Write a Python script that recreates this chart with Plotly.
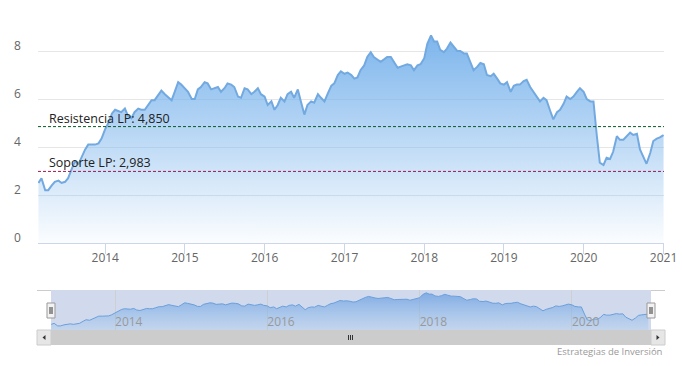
import pandas as pd
import plotly.graph_objects as go

# ---------------- data ----------------
start_date = "2013-03-01"
values = [
    2.5, 2.7, 2.2, 2.2, 2.4, 2.55, 2.6, 2.5, 2.55, 2.7,
    3.1, 3.4, 3.3, 3.6, 3.9, 4.1, 4.1, 4.1, 4.15, 4.35,
    4.75, 5.0, 5.4, 5.55, 5.5, 5.45, 5.6, 5.3, 5.2, 5.45,
    5.6, 5.55, 5.55, 5.75, 5.95, 5.95, 6.2, 6.35, 6.2, 6.1,
    5.95, 6.3, 6.7, 6.6, 6.45, 6.3, 6.0, 6.0, 6.4, 6.5,
    6.7, 6.65, 6.4, 6.45, 6.5, 6.3, 6.45, 6.65, 6.6, 6.5,
    6.1, 6.05, 6.45, 6.4, 6.2, 6.3, 6.45, 6.2, 6.1, 5.75,
    5.9, 5.55, 5.75, 6.05, 5.9, 6.2, 6.3, 6.05, 6.4, 5.9,
    5.35, 5.75, 5.9, 5.85, 6.2, 6.05, 5.9, 6.2, 6.55, 6.65,
    7.0, 7.15, 7.05, 7.1, 7.0, 6.85, 6.9, 7.2, 7.4, 7.75,
    7.95, 7.75, 7.65, 7.55, 7.65, 7.75, 7.75, 7.55, 7.3, 7.35,
    7.4, 7.45, 7.4, 7.2, 7.4, 7.45, 7.7, 8.3, 8.65, 8.4,
    8.4, 8.05, 7.95, 8.1, 8.35, 8.2, 8.0, 8.0, 7.9, 7.9,
    7.5, 7.2, 7.35, 7.5, 7.45, 7.0, 6.95, 7.05, 6.85, 6.65,
    6.6, 6.7, 6.3, 6.55, 6.6, 6.6, 6.75, 6.8, 6.5, 6.3,
    6.1, 5.9, 6.05, 5.95, 5.5, 5.15, 5.45, 5.55, 5.8, 6.1,
    6.0, 6.1, 6.3, 6.45, 6.3, 6.0, 5.9, 5.9, 4.5, 3.35,
    3.25, 3.55, 3.5, 3.8, 4.45, 4.3, 4.3, 4.45, 4.6, 4.5,
    4.55, 3.9, 3.6, 3.3, 3.75, 4.25, 4.35, 4.4, 4.5,
]
dates = pd.date_range(start_date, periods=len(values), freq="SMS")

resistencia = 4.850
soporte = 2.983
resistencia_label = "Resistencia LP: 4,850"
soporte_label = "Soporte LP: 2,983"

year_ticks = ["2014", "2015", "2016", "2017", "2018", "2019", "2020", "2021"]
nav_ticks = ["2014", "2016", "2018", "2020"]
y_grid = [0, 2, 4, 6, 8, 10]
y_labels = [0, 2, 4, 6, 8]
credit_text = "Estrategias de Inversión"

main_range = ["2013-02-27", "2021-01-03"]
nav_range = ["2013-02-28", "2021-01-14"]

# ---------------- layout geometry helpers (pixels -> paper) ----------------
W, H = 682, 366
ML, MR, MT, MB = 38, 18, 3, 21
PW, PH = W - ML - MR, H - MT - MB


def fx(px):
    return (px - ML) / PW


def fy(py):
    return (H - MB - py) / PH


FONT = "Open Sans, DejaVu Sans, sans-serif"

fig = go.Figure()

# main area series
fig.add_trace(go.Scatter(
    x=dates, y=values, mode="lines",
    line=dict(color="#72a9e0", width=2),
    fill="tozeroy",
    fillgradient=dict(type="vertical", start=0, stop=8.7,
                      colorscale=[[0, "rgba(124,181,236,0.03)"],
                                  [1, "rgba(124,181,236,1)"]]),
    hoverinfo="skip", showlegend=False, xaxis="x", yaxis="y",
))

# navigator series
fig.add_trace(go.Scatter(
    x=dates, y=values, mode="lines",
    line=dict(color="#6b9fdc", width=1),
    fill="tozeroy",
    fillgradient=dict(type="vertical", start=1.4, stop=8.7,
                      colorscale=[[0, "rgba(124,181,236,0.15)"],
                                  [1, "rgba(110,160,225,0.8)"]]),
    hoverinfo="skip", showlegend=False, xaxis="x2", yaxis="y2",
))

shapes = []
# support / resistance lines
shapes.append(dict(type="line", xref="paper", yref="y", x0=0, x1=1,
                   y0=resistencia, y1=resistencia,
                   line=dict(color="#0b5a26", width=1, dash="3px,2px")))
shapes.append(dict(type="line", xref="paper", yref="y", x0=0, x1=1,
                   y0=soporte, y1=soporte,
                   line=dict(color="#9a1a52", width=1, dash="3px,2px")))

# navigator mask (selected range)
shapes.append(dict(type="rect", xref="paper", yref="paper",
                   x0=fx(51), x1=fx(651), y0=fy(330), y1=fy(290),
                   fillcolor="rgba(102,133,194,0.3)", line=dict(width=0),
                   layer="below"))
# navigator outline
shapes.append(dict(type="line", xref="paper", yref="paper",
                   x0=fx(37), x1=fx(51), y0=fy(290.5), y1=fy(290.5),
                   line=dict(color="#cccccc", width=1)))
shapes.append(dict(type="line", xref="paper", yref="paper",
                   x0=fx(651), x1=fx(665), y0=fy(290.5), y1=fy(290.5),
                   line=dict(color="#cccccc", width=1)))

# scrollbar track, thumb, buttons
shapes.append(dict(type="rect", xref="paper", yref="paper",
                   x0=fx(37), x1=fx(665), y0=fy(345), y1=fy(330),
                   fillcolor="#f2f2f2", line=dict(width=0)))
shapes.append(dict(type="rect", xref="paper", yref="paper",
                   x0=fx(51), x1=fx(651), y0=fy(345), y1=fy(330),
                   fillcolor="#cccccc", line=dict(width=0)))
for bx in (37, 651):
    shapes.append(dict(type="rect", xref="paper", yref="paper",
                       x0=fx(bx), x1=fx(bx + 14), y0=fy(345), y1=fy(330),
                       fillcolor="#e6e6e6", line=dict(color="#cccccc", width=1)))
# arrows
shapes.append(dict(type="path", xref="paper", yref="paper",
                   path=f"M {fx(42.5)} {fy(337.5)} L {fx(45.5)} {fy(335)} L {fx(45.5)} {fy(340)} Z",
                   fillcolor="#333333", line=dict(width=0)))
shapes.append(dict(type="path", xref="paper", yref="paper",
                   path=f"M {fx(659.5)} {fy(337.5)} L {fx(656.5)} {fy(335)} L {fx(656.5)} {fy(340)} Z",
                   fillcolor="#333333", line=dict(width=0)))
# thumb rifles
for rx in (348.5, 350.5, 352.5):
    shapes.append(dict(type="line", xref="paper", yref="paper",
                       x0=fx(rx), x1=fx(rx), y0=fy(335), y1=fy(340),
                       line=dict(color="#333333", width=1)))

# handles
for hx in (51, 651):
    shapes.append(dict(type="rect", xref="paper", yref="paper",
                       x0=fx(hx - 4), x1=fx(hx + 4), y0=fy(318), y1=fy(303),
                       fillcolor="#f2f2f2", line=dict(color="#999999", width=1)))
    for lx in (hx - 1, hx + 1):
        shapes.append(dict(type="line", xref="paper", yref="paper",
                           x0=fx(lx), x1=fx(lx), y0=fy(314), y1=fy(307),
                           line=dict(color="#333333", width=1)))

annotations = [
    dict(text=resistencia_label, xref="paper", yref="y", x=fx(47), y=resistencia,
         xanchor="left", yanchor="bottom", showarrow=False, yshift=-2,
         font=dict(family=FONT, size=12.5, color="#222222")),
    dict(text=soporte_label, xref="paper", yref="y", x=fx(47), y=soporte,
         xanchor="left", yanchor="bottom", showarrow=False, yshift=-2,
         font=dict(family=FONT, size=12.5, color="#222222")),
    dict(text=credit_text, xref="paper", yref="paper", x=fx(665), y=fy(351),
         xanchor="right", yanchor="middle", showarrow=False,
         font=dict(family=FONT, size=9.5, color="#999999")),
]
# y-axis labels (offset above their grid lines, as in the original)
for v in y_labels:
    annotations.append(dict(
        text=str(v), xref="paper", yref="y", x=fx(23), y=v,
        xanchor="right", yanchor="middle", yshift=6, showarrow=False,
        font=dict(family=FONT, size=12, color="#666666")))

fig.update_layout(
    width=W, height=H,
    margin=dict(l=ML, r=MR, t=MT, b=MB, pad=0),
    paper_bgcolor="white", plot_bgcolor="rgba(0,0,0,0)",
    showlegend=False,
    font=dict(family=FONT, size=12, color="#666666"),
    xaxis=dict(
        domain=[0, 1], anchor="y", type="date", range=main_range,
        tickvals=[f"{y}-01-01" for y in year_ticks], ticktext=year_ticks,
        showgrid=False, showline=True, linecolor="#ccd6eb", linewidth=1,
        ticks="outside", ticklen=10, tickcolor="#ccd6eb", tickwidth=1,
        tickfont=dict(family=FONT, size=12, color="#666666"),
        ticklabelstandoff=-6,
        zeroline=False, fixedrange=True,
    ),
    yaxis=dict(
        domain=[fy(243), 1], anchor="x", range=[0, 10],
        tickvals=y_grid, showticklabels=False,
        showgrid=True, gridcolor="#e6e6e6", gridwidth=1,
        zeroline=False, showline=False, ticks="",
        fixedrange=True,
    ),
    xaxis2=dict(
        domain=[fx(51), fx(651)], anchor="y2", type="date", range=nav_range,
        tickvals=[f"{y}-01-01" for y in nav_ticks], ticktext=nav_ticks,
        showgrid=True, gridcolor="#cfcfcf", gridwidth=1,
        showline=False, ticks="", ticklabelposition="inside right",
        ticklabelstandoff=-4,
        tickfont=dict(family=FONT, size=12, color="#999999"),
        zeroline=False, fixedrange=True,
    ),
    yaxis2=dict(
        domain=[fy(330), fy(290)], anchor="x2", range=[1.4, 9.2],
        showgrid=False, showticklabels=False, zeroline=False, ticks="",
        fixedrange=True,
    ),
    shapes=shapes,
    annotations=annotations,
)

fig.write_html(
    "out.html",
    config={"displayModeBar": False, "staticPlot": True},
    post_script="document.body.style.margin='0';document.body.style.overflow='hidden';",
)
